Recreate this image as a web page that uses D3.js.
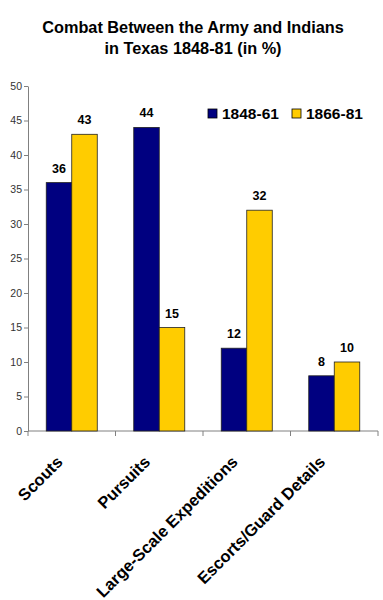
<!DOCTYPE html>
<html><head><meta charset="utf-8">
<script src="https://cdn.jsdelivr.net/npm/d3@7"></script>
<style>body{margin:0;background:#fff;} text{font-family:Arial,"Liberation Sans",sans-serif;}</style>
</head><body>
<svg id="c" width="383" height="600"></svg>
<script>
const categories = ["Scouts","Pursuits","Large-Scale Expeditions","Escorts/Guard Details"];
const series = ["1848-61","1866-81"];
const values1848 = [36,44,12,8];
const values1866 = [43,15,32,10];
const yTicks = [0,5,10,15,20,25,30,35,40,45,50];
const colors = ["#000080","#FFCC00"];

(function(){
const svg = d3.select("#c");
const mLeft = 28, mRight = 378, mTop = 86, mBottom = 431;
const x0 = d3.scaleBand().domain(categories).range([mLeft,mRight]).paddingInner(0.417).paddingOuter(0.2085);
const x1 = d3.scaleBand().domain(series).range([0,x0.bandwidth()]);
const y = d3.scaleLinear().domain([0,50]).range([mBottom,mTop]);

// title
const title = svg.append("text").attr("text-anchor","middle").attr("font-weight","bold").attr("font-size","16.3px").attr("fill","#000");
title.append("tspan").attr("x",193).attr("y",33).text("Combat Between the Army and Indians");
title.append("tspan").attr("x",193).attr("y",54).text("in Texas 1848-81 (in %)");

// y axis
const yAxis = svg.append("g").attr("transform",`translate(${mLeft},0)`)
  .call(d3.axisLeft(y).tickValues(yTicks).tickSize(4).tickSizeOuter(0));
yAxis.select(".domain").attr("stroke","#808080");
yAxis.selectAll(".tick line").attr("stroke","#808080");
yAxis.selectAll(".tick text").attr("font-size","10.5px").attr("fill","#333").attr("font-family","Arial,'Liberation Sans',sans-serif").attr("x",-6);

// x axis line with ticks at band boundaries
const xg = svg.append("g");
xg.append("line").attr("x1",mLeft).attr("x2",mRight).attr("y1",mBottom).attr("y2",mBottom).attr("stroke","#808080");
const bounds = [mLeft].concat(categories.map(c=>x0(c)+x0.bandwidth()+x0.step()*x0.paddingInner()/2));
bounds[bounds.length-1]=mRight;
xg.selectAll("line.tk").data(bounds).join("line").attr("class","tk")
  .attr("x1",d=>d).attr("x2",d=>d).attr("y1",mBottom).attr("y2",mBottom+5).attr("stroke","#808080");

// bars
const data = categories.map((c,i)=>({c, vals:[values1848[i],values1866[i]]}));
const g = svg.append("g");
data.forEach(d=>{
  d.vals.forEach((v,j)=>{
    const bx = x0(d.c)+x1(series[j]);
    g.append("rect").attr("x",bx).attr("y",y(v)).attr("width",x1.bandwidth()).attr("height",y(0)-y(v))
      .attr("fill",colors[j]).attr("stroke","#222").attr("stroke-width",0.8);
    g.append("text").attr("x",bx+x1.bandwidth()/2).attr("y",y(v)-10).attr("text-anchor","middle")
      .attr("font-weight","bold").attr("font-size","12.5px").attr("fill","#000").text(v);
  });
});

// category labels
svg.selectAll("text.cat").data(categories).join("text").attr("class","cat")
  .attr("text-anchor","end").attr("font-weight","bold").attr("font-size","16.5px").attr("fill","#000")
  .attr("transform",d=>`translate(${x0(d)+x0.bandwidth()/2-8},${mBottom+32}) rotate(-45)`)
  .text(d=>d);

// legend
const lg = svg.append("g");
const legX = [208,292];
series.forEach((s,i)=>{
  lg.append("rect").attr("x",legX[i]).attr("y",109).attr("width",9).attr("height",9).attr("fill",colors[i]).attr("stroke","#000").attr("stroke-width",0.8);
  lg.append("text").attr("x",legX[i]+14).attr("y",119).attr("font-weight","bold").attr("font-size","15.5px").attr("fill","#000").text(s);
});
})();
</script>
</body></html>
